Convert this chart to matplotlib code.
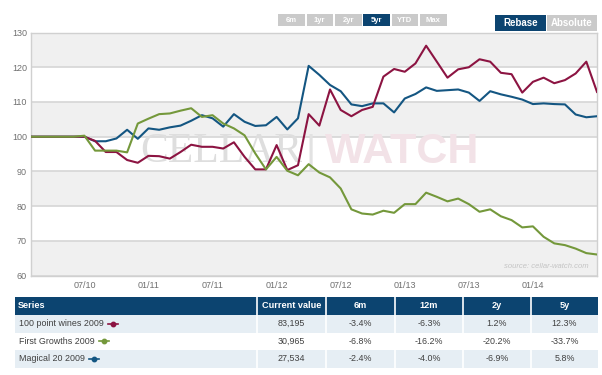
import matplotlib
matplotlib.use("Agg")
import matplotlib.pyplot as plt
from matplotlib.patches import Rectangle
from matplotlib.lines import Line2D

plt.rcParams['font.family'] = ['Liberation Sans', 'DejaVu Sans']

# ---------------- data ----------------
months = ["02/10", "03/10", "04/10", "05/10", "06/10", "07/10", "08/10", "09/10", "10/10", "11/10", "12/10",
          "01/11", "02/11", "03/11", "04/11", "05/11", "06/11", "07/11", "08/11", "09/11", "10/11", "11/11", "12/11",
          "01/12", "02/12", "03/12", "04/12", "05/12", "06/12", "07/12", "08/12", "09/12", "10/12", "11/12", "12/12",
          "01/13", "02/13", "03/13", "04/13", "05/13", "06/13", "07/13", "08/13", "09/13", "10/13", "11/13", "12/13",
          "01/14", "02/14", "03/14", "04/14", "05/14", "06/14", "07/14"]

wines100 = [100, 100, 100, 100, 100, 100, 98.8, 95.6, 95.6, 93.3, 92.5,
            94.5, 94.4, 93.7, 95.6, 97.7, 97.1, 97.1, 96.6, 98.4, 94.2, 90.6, 90.6,
            97.6, 90.4, 91.8, 106.5, 103.2, 113.6, 107.7, 105.9, 107.7, 108.6, 117.3, 119.5,
            118.7, 121.1, 126.2, 121.6, 117.0, 119.4, 120.0, 122.3, 121.6, 118.4, 118.0, 112.7,
            115.8, 117.0, 115.4, 116.3, 118.2, 121.6, 112.9]

first_growths = [100, 100, 100, 100, 100, 100.3, 96.0, 96.0, 96.0, 95.5, 103.8,
                 105.2, 106.5, 106.7, 107.5, 108.2, 105.7, 106.2, 103.8, 102.4, 100.4, 95.2, 90.6,
                 94.2, 90.2, 88.9, 92.1, 89.7, 88.3, 85.1, 79.1, 77.9, 77.6, 78.7, 78.1,
                 80.6, 80.6, 83.9, 82.7, 81.4, 82.2, 80.6, 78.4, 79.1, 77.1, 76.0, 73.9,
                 74.2, 71.2, 69.3, 68.8, 67.8, 66.5, 66.1]

magical20 = [100, 100, 100, 100, 100, 100, 98.7, 98.7, 99.5, 102.0, 99.4,
             102.4, 102.0, 102.7, 103.2, 104.6, 106.2, 105.3, 102.9, 106.5, 104.3, 103.1, 103.3,
             105.7, 102.1, 105.3, 120.4, 117.8, 114.9, 113.1, 109.3, 108.8, 109.6, 109.6, 107.0,
             111.0, 112.3, 114.2, 113.2, 113.4, 113.6, 112.7, 110.3, 113.1, 112.2, 111.5, 110.7,
             109.4, 109.6, 109.4, 109.3, 106.4, 105.6, 105.9]

xtick_labels = ["07/10", "01/11", "07/11", "01/12", "07/12", "01/13", "07/13", "01/14"]
ytick_values = [60, 70, 80, 90, 100, 110, 120, 130]

series_names = ["100 point wines 2009", "First Growths 2009", "Magical 20 2009"]
current_values = ["83,195", "30,965", "27,534"]
chg_6m = ["-3.4%", "-6.8%", "-2.4%"]
chg_12m = ["-6.3%", "-16.2%", "-4.0%"]
chg_2y = ["1.2%", "-20.2%", "-6.9%"]
chg_5y = ["12.3%", "-33.7%", "5.8%"]
table_headers = ["Series", "Current value", "6m", "12m", "2y", "5y"]
range_buttons = ["6m", "1yr", "2yr", "5yr", "YTD", "Max"]

# ---------------- style ----------------
RED = '#8c1442'
GREEN = '#74983b'
BLUE = '#145682'
NAVY = '#0c4470'
W, H = 602, 375

fig = plt.figure(figsize=(W / 100, H / 100), dpi=100)
fig.patch.set_facecolor('white')


def fx(x):
    return x / W


def fy(y):
    return 1 - y / H


ax_l, ax_r, ax_t, ax_b = 31, 597, 32.5, 275.7
ax = fig.add_axes([fx(ax_l), fy(ax_b), fx(ax_r - ax_l), fy(ax_t) - fy(ax_b)])

xs = list(range(len(months)))
ax.set_xlim(0, len(months) - 1)
ax.set_ylim(60, 130)

# bands
for lo in [60, 80, 100, 120]:
    ax.axhspan(lo, lo + 10, color='#f0f0f0', zorder=0, lw=0)
for v in ytick_values:
    ax.axhline(v, color='#d6d6d6', lw=1.2, zorder=1)

# watermark
ax.text(0.336, 0.51, "CELLAR", transform=ax.transAxes, fontsize=30, family='Liberation Serif',
        color='#dedede', ha='center', va='center', zorder=1.5)
ax.text(0.494, 0.51, "|", transform=ax.transAxes, fontsize=28, color='#e2e2e2',
        ha='center', va='center', zorder=1.5)
ax.text(0.656, 0.51, "WATCH", transform=ax.transAxes, fontsize=31, family='Liberation Sans',
        fontweight='bold', color='#f2e2e7', ha='center', va='center', zorder=1.5)

ax.plot(xs, magical20, color=BLUE, lw=1.5, zorder=3)
ax.plot(xs, wines100, color=RED, lw=1.5, zorder=4)
ax.plot(xs, first_growths, color=GREEN, lw=1.5, zorder=5)

tick_pos = [months.index(m) for m in xtick_labels]
ax.set_xticks(tick_pos)
ax.set_xticklabels(xtick_labels)
ax.set_yticks(ytick_values)
ax.tick_params(axis='both', length=0, labelsize=6.5, labelcolor='#707070')
ax.tick_params(axis='x', pad=4)
ax.tick_params(axis='y', pad=3)
for s in ax.spines.values():
    s.set_color('#d0d0d0')
    s.set_linewidth(1.0)

ax.text(0.985, 0.025, "source: cellar-watch.com", transform=ax.transAxes, fontsize=5.5,
        style='italic', color='#c4c4c4', ha='right', va='bottom', zorder=6)

# ---------------- buttons ----------------
btn_x = [278, 306.5, 335, 363, 391.5, 420]
for lbl, bx in zip(range_buttons, btn_x):
    col = NAVY if lbl == "5yr" else '#cacaca'
    fig.patches.append(Rectangle((fx(bx), fy(26)), fx(26.5), fy(14) - fy(26), transform=fig.transFigure,
                                 color=col, lw=0))
    fig.text(fx(bx + 13.25), fy(20), lbl, fontsize=5.5, fontweight='bold', color='white',
             ha='center', va='center')
for lbl, bx, bw, col in [("Rebase", 495, 50.5, NAVY), ("Absolute", 546.5, 50.5, '#cacaca')]:
    fig.patches.append(Rectangle((fx(bx), fy(31)), fx(bw), fy(15) - fy(31), transform=fig.transFigure,
                                 color=col, lw=0))
    fig.text(fx(bx + bw / 2), fy(23), lbl, fontsize=7, fontweight='bold', color='white',
             ha='center', va='center')

# ---------------- table ----------------
col_edges = [15, 257, 326, 395, 463, 531, 598]
row_edges = [297, 315, 332.5, 350, 367.5]


def rect(x0, y0, x1, y1, color):
    fig.patches.append(Rectangle((fx(x0), fy(y1)), fx(x1 - x0), fy(y0) - fy(y1),
                                 transform=fig.transFigure, color=color, lw=0))


rect(col_edges[0], row_edges[0], col_edges[-1], row_edges[1], NAVY)
row_bg = ['#e6eef4', 'white', '#e6eef4']
for i in range(3):
    rect(col_edges[0], row_edges[i + 1], col_edges[-1], row_edges[i + 2], row_bg[i])
for ce in col_edges[1:-1]:
    fig.add_artist(Line2D([fx(ce), fx(ce)], [fy(row_edges[0]), fy(row_edges[-1])],
                          transform=fig.transFigure, color='white', lw=1.2))

hy = (row_edges[0] + row_edges[1]) / 2
fig.text(fx(18), fy(hy), table_headers[0], fontsize=6.6, fontweight='bold', color='white',
         ha='left', va='center')
for j in range(1, 6):
    cx = (col_edges[j] + col_edges[j + 1]) / 2
    fig.text(fx(cx), fy(hy), table_headers[j], fontsize=6.6, fontweight='bold', color='white',
             ha='center', va='center')

colors = [RED, GREEN, BLUE]
cols = [current_values, chg_6m, chg_12m, chg_2y, chg_5y]
name_texts = []
for i in range(3):
    ry = (row_edges[i + 1] + row_edges[i + 2]) / 2
    t = fig.text(fx(19), fy(ry), series_names[i], fontsize=6.4, color='#404040', ha='left', va='center')
    name_texts.append((t, ry))
    for j, colvals in enumerate(cols):
        cx = (col_edges[j + 1] + col_edges[j + 2]) / 2
        fig.text(fx(cx), fy(ry), colvals[i], fontsize=6.4, color='#404040', ha='center', va='center')

fig.canvas.draw()
renderer = fig.canvas.get_renderer()
for i, (t, ry) in enumerate(name_texts):
    bb = t.get_window_extent(renderer)
    xend = bb.x1  # pixels from left
    mx = xend + 9
    fig.add_artist(Line2D([fx(mx - 5), fx(mx + 5)], [fy(ry), fy(ry)], transform=fig.transFigure,
                          color=colors[i], lw=1.2))
    fig.add_artist(Line2D([fx(mx)], [fy(ry)], transform=fig.transFigure, color=colors[i],
                          marker='o', markersize=3.2, lw=0))

fig.savefig('out.png', dpi=100)
